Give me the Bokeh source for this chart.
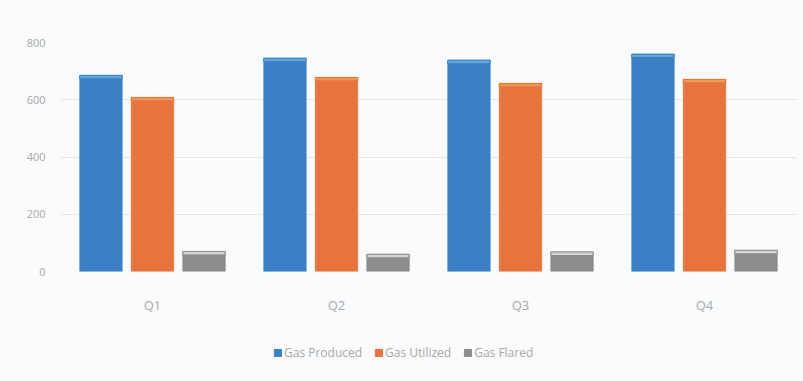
from bokeh.plotting import figure
from bokeh.models import FactorRange, Range1d, Legend, LegendItem, ColumnDataSource
from bokeh.layouts import column
from bokeh.transform import dodge
from bokeh.embed import file_html
from bokeh.resources import INLINE

quarters = ["Q1", "Q2", "Q3", "Q4"]
gas_produced = [685, 745, 738, 759]
gas_utilized = [608, 678, 657, 671]
gas_flared = [70, 60, 68, 74]
series_names = ["Gas Produced", "Gas Utilized", "Gas Flared"]
y_ticks = [0, 200, 400, 600, 800]

colors = ["#3b80c6", "#e8743c", "#8c8c8c"]
cap_colors = ["#6fb0e6", "#f2a05c", "#e6e6e6"]
bg = "#f9fbfd"

src = ColumnDataSource(dict(
    q=quarters, prod=gas_produced, util=gas_utilized, flar=gas_flared,
    prod_cap=[v - 12 for v in gas_produced],
    util_cap=[v - 12 for v in gas_utilized],
    flar_cap=[v - 12 for v in gas_flared],
))

chart = figure(width=803, height=321, x_range=FactorRange(*quarters), y_range=Range1d(0, 800),
               output_backend="svg", toolbar_location=None,
               min_border_left=60, min_border_right=7, min_border_top=42, min_border_bottom=50)
chart.background_fill_color = bg
chart.border_fill_color = bg
chart.outline_line_color = None

offsets = [-0.28, 0.0, 0.28]
fields = ["prod", "util", "flar"]
for off, f, c, cc in zip(offsets, fields, colors, cap_colors):
    chart.vbar(x=dodge("q", off, range=chart.x_range), top=f, bottom=0, width=0.23,
               source=src, fill_color=c, line_color=c, line_alpha=0.8)
    chart.vbar(x=dodge("q", off, range=chart.x_range), top=f, bottom=f + "_cap", width=0.23,
               source=src, fill_color=cc, line_color=c, fill_alpha=0.8)

chart.yaxis.ticker = y_ticks
chart.yaxis.axis_line_color = None
chart.yaxis.major_tick_line_color = None
chart.yaxis.minor_tick_line_color = None
chart.yaxis.major_label_text_color = "#a8a8a8"
chart.yaxis.major_label_text_font = "Open Sans"
chart.yaxis.major_label_text_font_size = "11px"
chart.yaxis.major_label_standoff = 9

chart.xaxis.axis_line_color = None
chart.xaxis.major_tick_line_color = None
chart.xaxis.major_label_text_color = "#a8a8a8"
chart.xaxis.major_label_text_font = "Open Sans"
chart.xaxis.major_label_text_font_size = "13px"
chart.xaxis.major_label_standoff = 18

chart.xgrid.grid_line_color = None
chart.ygrid.grid_line_color = "#e4e6e8"
chart.ygrid.grid_line_width = 1

# legend strip below the chart
leg = figure(width=803, height=60, x_range=FactorRange(*quarters), y_range=Range1d(5000, 5001),
             output_backend="svg", toolbar_location=None,
             min_border_left=0, min_border_right=0, min_border_top=0, min_border_bottom=0)
leg.axis.visible = False
leg.grid.visible = False
leg.background_fill_color = bg
leg.border_fill_color = bg
leg.outline_line_color = None
renderers = []
for off, f, c in zip(offsets, fields, colors):
    r = leg.vbar(x=dodge("q", off, range=leg.x_range), top=f, bottom=0, width=0.23,
                 source=src, fill_color=c, line_color=c)
    renderers.append(r)

legend = Legend(items=[LegendItem(label=n, renderers=[r]) for n, r in zip(series_names, renderers)],
                orientation="horizontal", location=(213, 20),
                background_fill_alpha=0, border_line_color=None,
                label_text_color="#a8a8a8", label_text_font="Open Sans",
                label_text_font_size="12px", glyph_width=9, glyph_height=9,
                spacing=12, label_standoff=2, padding=4, margin=0)
leg.add_layout(legend, "center")

p = column(chart, leg, spacing=0)
open("out.html", "w").write(file_html(p, INLINE))
